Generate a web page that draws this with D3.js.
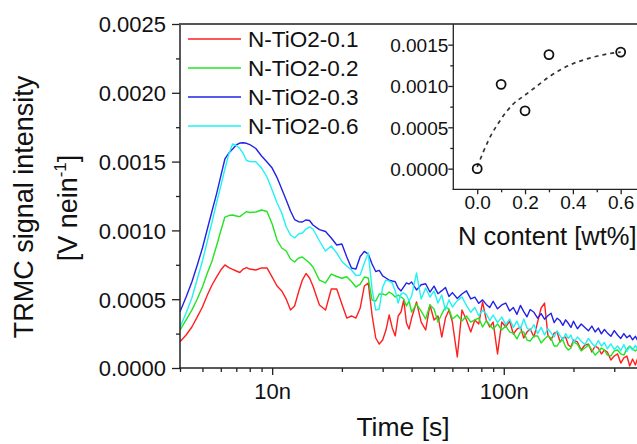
<!DOCTYPE html>
<html><head><meta charset="utf-8">
<script src="https://cdn.jsdelivr.net/npm/d3@7"></script>
<style>
html,body{margin:0;padding:0;background:#fff;overflow:hidden}
svg{display:block}
text{font-family:"Liberation Sans",Arial,sans-serif;fill:#111}
</style></head><body>
<svg id="chart" width="637" height="444"></svg>
<script>
// ---- Data ----
const seriesNames = ["N-TiO2-0.1","N-TiO2-0.2","N-TiO2-0.3","N-TiO2-0.6"];
// time in ns
const timeNs = [4,4.25,4.5,4.75,5,5.25,5.5,5.75,6,6.25,
6.5,6.75,7,7.25,7.5,7.75,8,8.5,9,9.5,
10,10.5,11,11.5,12,12.5,13,13.5,14,14.5,
15,16,17,18,19,20,21,22,23,24,
25,26,27,28,29,30,31,32,33,34,
35,36,37,38,39,40,42,44,46,48,
50,52,54,56,58,60,63,66,69,72,
75,78,81,84,87,90,94,98,102,106,
110,114,118,122,126,130,135,140,145,150,
155,160,165,170,175,180,185,190,195,200,
208,216,224,232,240,248,256,264,272,280,
290,300,310,320,330,340,350,360,370,380];
const tio2_01 = [1.91e-4,2.40e-4,2.98e-4,3.71e-4,4.43e-4,5.30e-4,6.03e-4,6.61e-4,7.12e-4,7.49e-4,
7.30e-4,7.16e-4,7.05e-4,6.94e-4,7.19e-4,7.30e-4,7.19e-4,7.12e-4,7.27e-4,7.27e-4,
6.61e-4,5.96e-4,5.60e-4,5.01e-4,4.21e-4,4.51e-4,5.52e-4,6.39e-4,6.87e-4,6.54e-4,
5.96e-4,4.58e-4,4.21e-4,5.74e-4,5.74e-4,4.65e-4,3.63e-4,3.78e-4,3.63e-4,4.36e-4,
5.96e-4,6.18e-4,3.85e-4,2.18e-4,1.74e-4,2.03e-4,2.76e-4,3.85e-4,2.91e-4,2.33e-4,
3.78e-4,4.07e-4,4.94e-4,3.27e-4,2.83e-4,3.63e-4,4.80e-4,3.34e-4,2.76e-4,4.58e-4,
3.49e-4,3.78e-4,2.25e-4,3.63e-4,4.21e-4,3.34e-4,0.80e-4,4.21e-4,3.49e-4,2.62e-4,
3.49e-4,3.20e-4,4.80e-4,3.49e-4,2.98e-4,3.34e-4,1.02e-4,3.34e-4,2.98e-4,3.42e-4,
2.47e-4,2.83e-4,2.98e-4,2.18e-4,2.62e-4,2.83e-4,2.25e-4,3.34e-4,4.36e-4,4.72e-4,
2.40e-4,2.03e-4,2.54e-4,2.62e-4,1.89e-4,2.18e-4,2.25e-4,1.67e-4,1.53e-4,2.03e-4,
1.89e-4,1.31e-4,1.67e-4,1.74e-4,1.16e-4,1.60e-4,1.45e-4,1.02e-4,1.31e-4,1.16e-4,
0.58e-4,0.87e-4,1.02e-4,0.36e-4,0.73e-4,0.87e-4,0.15e-4,0.65e-4,0.22e-4,0.80e-4];
const tio2_02 = [2.76e-4,3.49e-4,4.21e-4,5.01e-4,5.89e-4,6.90e-4,7.78e-4,8.87e-4,9.96e-4,10.97e-4,
11.08e-4,11.12e-4,11.05e-4,11.00e-4,11.19e-4,11.36e-4,11.30e-4,11.34e-4,11.48e-4,11.37e-4,
10.46e-4,9.30e-4,8.72e-4,8.50e-4,7.92e-4,7.70e-4,7.99e-4,8.07e-4,7.85e-4,7.63e-4,
7.34e-4,6.39e-4,6.18e-4,6.83e-4,6.65e-4,6.52e-4,6.63e-4,6.29e-4,5.89e-4,6.10e-4,
6.61e-4,6.54e-4,4.94e-4,4.87e-4,5.38e-4,5.38e-4,5.30e-4,5.52e-4,5.38e-4,5.16e-4,
5.30e-4,5.16e-4,5.01e-4,4.51e-4,4.87e-4,4.07e-4,4.65e-4,4.14e-4,3.56e-4,4.58e-4,
4.29e-4,3.34e-4,3.92e-4,4.43e-4,4.29e-4,3.56e-4,3.85e-4,3.42e-4,3.78e-4,3.34e-4,
3.49e-4,3.63e-4,2.98e-4,3.42e-4,3.12e-4,2.83e-4,3.20e-4,2.76e-4,3.05e-4,2.62e-4,
2.54e-4,2.11e-4,2.62e-4,2.62e-4,2.03e-4,1.96e-4,2.33e-4,2.33e-4,1.82e-4,2.11e-4,
2.33e-4,2.18e-4,1.60e-4,1.60e-4,1.96e-4,2.03e-4,1.53e-4,1.31e-4,1.45e-4,1.89e-4,
1.74e-4,1.24e-4,1.45e-4,1.67e-4,1.31e-4,0.94e-4,1.16e-4,1.45e-4,1.31e-4,0.94e-4,
0.87e-4,1.24e-4,1.31e-4,1.02e-4,0.94e-4,1.38e-4,1.60e-4,1.38e-4,1.24e-4,1.38e-4];
const tio2_03 = [4.09e-4,5.16e-4,6.25e-4,7.49e-4,8.72e-4,10.10e-4,11.41e-4,12.64e-4,13.95e-4,15.19e-4,
15.62e-4,15.91e-4,16.21e-4,16.35e-4,16.37e-4,16.33e-4,16.24e-4,15.95e-4,15.41e-4,14.97e-4,
14.53e-4,13.84e-4,13.01e-4,12.21e-4,11.41e-4,10.79e-4,10.63e-4,10.61e-4,10.76e-4,10.72e-4,
10.39e-4,10.06e-4,9.92e-4,9.45e-4,8.94e-4,9.01e-4,8.07e-4,7.27e-4,7.19e-4,8.10e-4,
8.47e-4,8.28e-4,7.56e-4,7.01e-4,7.09e-4,6.69e-4,6.54e-4,6.39e-4,6.32e-4,6.27e-4,
5.81e-4,5.60e-4,5.89e-4,6.18e-4,6.10e-4,6.25e-4,5.67e-4,6.05e-4,6.12e-4,5.52e-4,
5.95e-4,5.40e-4,5.62e-4,5.85e-4,5.20e-4,5.48e-4,5.05e-4,5.38e-4,5.60e-4,5.02e-4,
5.15e-4,4.70e-4,4.95e-4,4.62e-4,4.40e-4,4.85e-4,4.30e-4,4.58e-4,4.72e-4,4.15e-4,
4.40e-4,3.90e-4,4.55e-4,4.10e-4,3.72e-4,4.25e-4,4.05e-4,3.62e-4,3.95e-4,3.55e-4,
3.80e-4,3.98e-4,3.30e-4,3.62e-4,3.45e-4,3.10e-4,3.50e-4,3.25e-4,2.95e-4,3.40e-4,
2.85e-4,3.20e-4,2.95e-4,2.70e-4,3.05e-4,2.62e-4,2.90e-4,2.48e-4,2.80e-4,2.55e-4,
2.30e-4,2.72e-4,2.40e-4,2.15e-4,2.50e-4,2.20e-4,2.38e-4,2.05e-4,2.30e-4,1.95e-4];
const tio2_06 = [2.98e-4,4.00e-4,5.09e-4,6.47e-4,7.78e-4,9.23e-4,10.61e-4,11.99e-4,13.23e-4,14.46e-4,
15.55e-4,16.28e-4,16.17e-4,15.95e-4,15.59e-4,15.08e-4,15.01e-4,14.99e-4,14.53e-4,13.88e-4,
12.94e-4,11.99e-4,11.26e-4,10.25e-4,9.67e-4,9.45e-4,9.74e-4,9.81e-4,10.10e-4,10.25e-4,
10.10e-4,9.23e-4,8.50e-4,8.87e-4,8.36e-4,7.74e-4,7.41e-4,7.12e-4,6.72e-4,6.76e-4,
7.63e-4,8.36e-4,5.74e-4,4.21e-4,4.29e-4,5.89e-4,6.39e-4,6.32e-4,6.18e-4,5.60e-4,
4.72e-4,5.38e-4,5.45e-4,5.30e-4,4.87e-4,5.23e-4,6.90e-4,5.01e-4,5.81e-4,5.16e-4,
5.60e-4,4.72e-4,5.30e-4,4.21e-4,4.95e-4,4.43e-4,4.90e-4,5.16e-4,4.55e-4,4.05e-4,
4.40e-4,3.80e-4,4.20e-4,3.95e-4,3.45e-4,3.85e-4,3.30e-4,3.70e-4,3.15e-4,3.55e-4,
2.95e-4,3.40e-4,2.80e-4,3.56e-4,2.90e-4,2.70e-4,3.15e-4,2.50e-4,2.95e-4,2.40e-4,
2.85e-4,2.55e-4,2.25e-4,2.70e-4,2.35e-4,2.05e-4,2.50e-4,2.15e-4,2.40e-4,1.85e-4,
2.25e-4,1.95e-4,1.70e-4,2.15e-4,1.80e-4,1.55e-4,2.00e-4,1.60e-4,1.85e-4,1.40e-4,
1.75e-4,1.35e-4,1.60e-4,1.25e-4,1.70e-4,1.20e-4,1.55e-4,1.30e-4,1.65e-4,1.30e-4];
const yTicks = [0,0.0005,0.0010,0.0015,0.0020,0.0025];
const yMinorTicks = [0.00025,0.00075,0.00125,0.00175,0.00225];
const xTicks = [1e-8,1e-7];
const xMinorTicks = [4e-9,5e-9,6e-9,7e-9,8e-9,9e-9,2e-8,3e-8,4e-8,5e-8,6e-8,7e-8,8e-8,9e-8,2e-7,3e-7,4e-7];
// inset
const nContent = [0,0.1,0.2,0.3,0.6];
const peakSignal = [0,1.02e-3,0.70e-3,1.38e-3,1.41e-3];
const fitN = [0,0.05,0.1,0.15,0.2,0.25,0.3,0.35,0.4,0.45,0.5,0.55,0.6];
const fitSignal = [0.02e-3,0.36e-3,0.60e-3,0.78e-3,0.89e-3,1.00e-3,1.11e-3,1.20e-3,1.27e-3,1.32e-3,1.36e-3,1.39e-3,1.41e-3];
const insetYTicks = [0,0.0005,0.0010,0.0015];
const insetYMinor = [0.00025,0.00075,0.00125];
const insetXTicks = [0,0.2,0.4,0.6];
const insetXMinor = [0.1,0.3,0.5];

const colors = ["#ff1f1f","#22e422","#2222e6","#22f2f2"];
const seriesValues = [tio2_01,tio2_02,tio2_03,tio2_06];

// ---- Chart ----
const svg = d3.select("#chart");
const FONT = '"Liberation Sans",Arial,sans-serif';
const x = d3.scaleLog().domain([4e-9,4e-7]).range([180,643.2]);
const y = d3.scaleLinear().domain([0,0.0025]).range([368,24]);

svg.append("defs").append("clipPath").attr("id","plotclip")
  .append("rect").attr("x",180).attr("y",24).attr("width",460).attr("height",346);

const line = d3.line().x((d,i)=>x(timeNs[i]*1e-9)).y(d=>y(d));
const gLines = svg.append("g").attr("clip-path","url(#plotclip)");
seriesValues.forEach((vals,k)=>{
  gLines.append("path").datum(vals).attr("d",line)
    .attr("fill","none").attr("stroke",colors[k]).attr("stroke-width",1.4)
    .attr("stroke-linejoin","round");
});

// axes
function styleAxis(g){
  g.select(".domain").remove();
  g.selectAll(".tick line").attr("stroke","#222").attr("stroke-width",1.3);
  g.selectAll("text").attr("font-family",FONT).attr("fill","#111");
}
const yAx = svg.append("g").attr("transform","translate(180,0)")
  .call(d3.axisLeft(y).tickValues(yTicks).tickFormat(d3.format(".4f")).tickSize(8).tickPadding(6));
styleAxis(yAx);
yAx.selectAll("text").attr("font-size",22).attr("x",-14).attr("dy","0.36em");
const yAxm = svg.append("g").attr("transform","translate(180,0)")
  .call(d3.axisLeft(y).tickValues(yMinorTicks).tickFormat("").tickSize(4));
styleAxis(yAxm);

const xAx = svg.append("g").attr("transform","translate(0,368)")
  .call(d3.axisBottom(x).tickValues(xTicks).tickFormat(d=>Math.round(d*1e9)+"n").tickSize(7));
styleAxis(xAx);
xAx.selectAll("text").attr("font-size",22).attr("y",31).attr("dy",0);
const xAxm = svg.append("g").attr("transform","translate(0,368)")
  .call(d3.axisBottom(x).tickValues(xMinorTicks).tickFormat("").tickSize(4));
styleAxis(xAxm);

// frame lines
svg.append("line").attr("x1",180).attr("x2",180).attr("y1",23).attr("y2",368.5).attr("stroke","#222").attr("stroke-width",1.5);
svg.append("line").attr("x1",179.3).attr("x2",637).attr("y1",368).attr("y2",368).attr("stroke","#222").attr("stroke-width",1.5);
svg.append("line").attr("x1",179.3).attr("x2",637).attr("y1",24).attr("y2",24).attr("stroke","#555").attr("stroke-width",2);

// axis titles
svg.append("text").attr("x",403).attr("y",436).attr("text-anchor","middle")
  .attr("font-size",26.5).attr("font-family",FONT).text("Time [s]");
svg.append("text").attr("transform","translate(33,207) rotate(-90)").attr("text-anchor","middle")
  .attr("font-size",27).attr("font-family",FONT).text("TRMC signal intensity");
const t2 = svg.append("text").attr("transform","translate(77,208) rotate(-90)").attr("text-anchor","middle")
  .attr("font-size",27).attr("font-family",FONT);
t2.append("tspan").text("[V nein");
t2.append("tspan").attr("font-size",17).attr("dy",-11).text("-1");
t2.append("tspan").attr("dy",11).text("]");

// legend
seriesNames.forEach((nm,k)=>{
  const yy = 39 + k*29;
  svg.append("line").attr("x1",188).attr("x2",241).attr("y1",yy).attr("y2",yy)
    .attr("stroke",colors[k]).attr("stroke-width",1.6);
  svg.append("text").attr("x",248).attr("y",yy+8).attr("font-size",22.5)
    .attr("font-family",FONT).text(nm);
});

// ---- Inset ----
const ix = d3.scaleLinear().domain([-0.1,0.7]).range([453.3,644.6]);
const iy = d3.scaleLinear().domain([-0.00025,0.00175]).range([189.3,24]);
svg.append("rect").attr("x",453.3).attr("y",25).attr("width",190).attr("height",164.3).attr("fill","#fff");
const iyAx = svg.append("g").attr("transform","translate(453.3,0)")
  .call(d3.axisLeft(iy).tickValues(insetYTicks).tickFormat(d3.format(".4f")).tickSize(5));
styleAxis(iyAx);
iyAx.selectAll("text").attr("font-size",19).attr("x",-5).attr("dy","0.36em");
const iyAxm = svg.append("g").attr("transform","translate(453.3,0)")
  .call(d3.axisLeft(iy).tickValues(insetYMinor).tickFormat("").tickSize(3));
styleAxis(iyAxm);
const ixAx = svg.append("g").attr("transform","translate(0,189.3)")
  .call(d3.axisBottom(ix).tickValues(insetXTicks).tickFormat(d3.format(".1f")).tickSize(5));
styleAxis(ixAx);
ixAx.selectAll("text").attr("font-size",19).attr("y",19.3).attr("dy",0);
const ixAxm = svg.append("g").attr("transform","translate(0,189.3)")
  .call(d3.axisBottom(ix).tickValues(insetXMinor).tickFormat("").tickSize(3));
styleAxis(ixAxm);
svg.append("line").attr("x1",453.3).attr("x2",453.3).attr("y1",24).attr("y2",190).attr("stroke","#222").attr("stroke-width",1.3);
svg.append("line").attr("x1",452.7).attr("x2",637).attr("y1",189.3).attr("y2",189.3).attr("stroke","#222").attr("stroke-width",1.3);

const fitLine = d3.line().x((d,i)=>ix(fitN[i])).y(d=>iy(d)).curve(d3.curveMonotoneX);
svg.append("path").datum(fitSignal).attr("d",fitLine).attr("fill","none")
  .attr("stroke","#333").attr("stroke-width",1.7).attr("stroke-dasharray","4,4");
svg.append("g").selectAll("circle").data(peakSignal).join("circle")
  .attr("cx",(d,i)=>ix(nContent[i])).attr("cy",d=>iy(d)).attr("r",4.5)
  .attr("fill","none").attr("stroke","#111").attr("stroke-width",1.8);

svg.append("text").attr("x",458).attr("y",245).attr("font-size",25.5)
  .attr("font-family",FONT).text("N content [wt%]");
</script>
</body></html>
